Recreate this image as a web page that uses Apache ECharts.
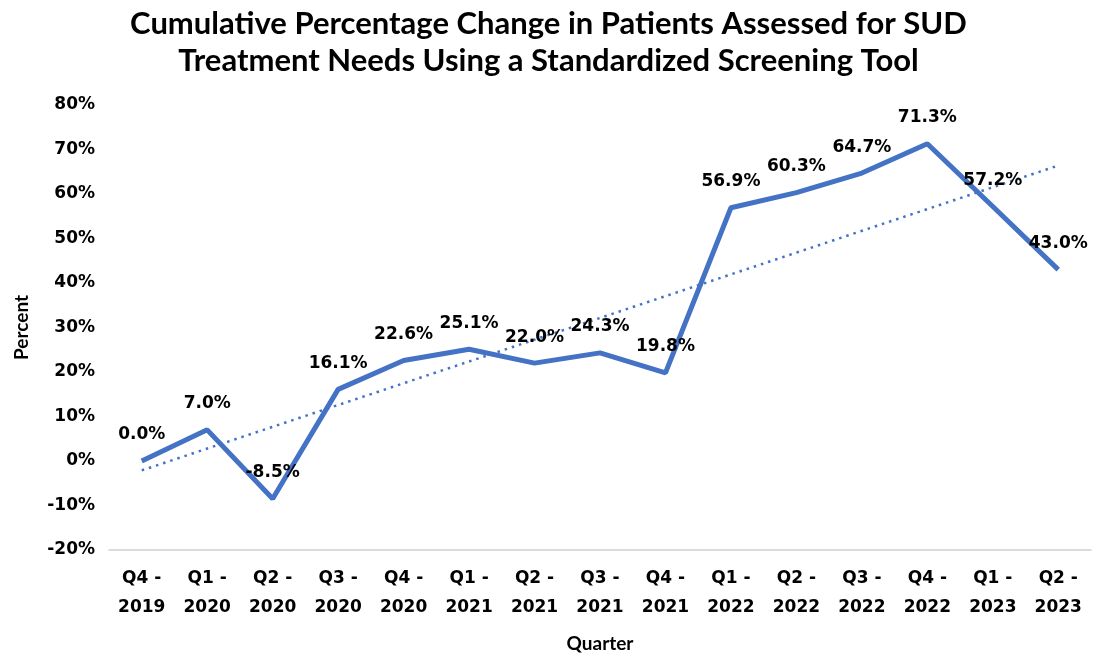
<!DOCTYPE html>
<html>
<head>
<meta charset="utf-8">
<script src="https://cdn.jsdelivr.net/npm/echarts@6/dist/echarts.min.js"></script>
<style>
    html, body { margin: 0; padding: 0; background: #fff; }
    #chart { width: 1097px; height: 658px; }
</style>
</head>
<body>
<div id="chart"></div>
<script>
// quarters on the x axis
const quarters = ['Q4 -\n2019', 'Q1 -\n2020', 'Q2 -\n2020', 'Q3 -\n2020', 'Q4 -\n2020',
    'Q1 -\n2021', 'Q2 -\n2021', 'Q3 -\n2021', 'Q4 -\n2021', 'Q1 -\n2022',
    'Q2 -\n2022', 'Q3 -\n2022', 'Q4 -\n2022', 'Q1 -\n2023', 'Q2 -\n2023']

// cumulative percentage change
const values = [0.0, 7.0, -8.5, 16.1, 22.6, 25.1, 22.0, 24.3, 19.8, 56.9, 60.3, 64.7, 71.3, 57.2, 43.0]

// linear trendline end points
const trendStart = -2.1
const trendEnd = 66.4

const trendData = quarters.map((q, i) => i === 0 ? trendStart : (i === quarters.length - 1 ? trendEnd : null))

let chartDom = document.getElementById('chart')
let myChart = echarts.init(chartDom)
let option

option = {
    animation: false,
    title: {
        text: 'Cumulative Percentage Change in Patients Assessed for SUD\nTreatment Needs Using a Standardized Screening Tool',
        left: 'center',
        top: 0,
        textStyle: {
            fontFamily: 'Lato',
            fontWeight: 'bold',
            fontSize: 31,
            lineHeight: 37,
            color: '#000'
        }
    },
    grid: {
        left: 109,
        right: 6,
        top: 105,
        bottom: 106
    },
    xAxis: {
        type: 'category',
        data: quarters,
        name: 'Quarter',
        nameLocation: 'middle',
        nameGap: 84,
        nameTextStyle: {
            fontFamily: 'Lato',
            fontWeight: 'bold',
            fontSize: 19,
            color: '#000'
        },
        axisLine: { onZero: false, lineStyle: { color: '#d0d0d0', width: 1.5 } },
        axisTick: { show: false },
        axisLabel: {
            interval: 0,
            margin: 14,
            fontFamily: 'DejaVu Sans',
            fontWeight: 'bold',
            fontSize: 17,
            lineHeight: 29,
            color: '#000'
        }
    },
    yAxis: {
        type: 'value',
        min: -20,
        max: 80,
        interval: 10,
        name: 'Percent',
        nameLocation: 'middle',
        nameGap: 78,
        nameTextStyle: {
            fontFamily: 'Lato',
            fontWeight: 'bold',
            fontSize: 19,
            color: '#000'
        },
        splitLine: { show: false },
        axisLine: { show: false },
        axisTick: { show: false },
        axisLabel: {
            margin: 14,
            formatter: '{value}%',
            fontFamily: 'DejaVu Sans',
            fontWeight: 'bold',
            fontSize: 17,
            color: '#000'
        }
    },
    series: [
        {
            name: 'Cumulative change',
            type: 'line',
            data: values,
            symbol: 'circle',
            symbolSize: 1,
            showSymbol: true,
            itemStyle: { color: 'rgba(68,114,196,0)' },
            lineStyle: { color: '#4472C4', width: 5 },
            label: {
                show: true,
                position: 'top',
                distance: 17,
                formatter: p => Number(p.value).toFixed(1) + '%',
                fontFamily: 'DejaVu Sans',
                fontWeight: 'bold',
                fontSize: 17,
                color: '#000'
            },
            z: 3
        },
        {
            name: 'Trend',
            type: 'line',
            data: trendData,
            connectNulls: true,
            symbol: 'none',
            lineStyle: { color: '#4472C4', width: 2.5, type: [2.5, 5] },
            z: 2
        }
    ]
}

option && myChart.setOption(option)
</script>
</body>
</html>
